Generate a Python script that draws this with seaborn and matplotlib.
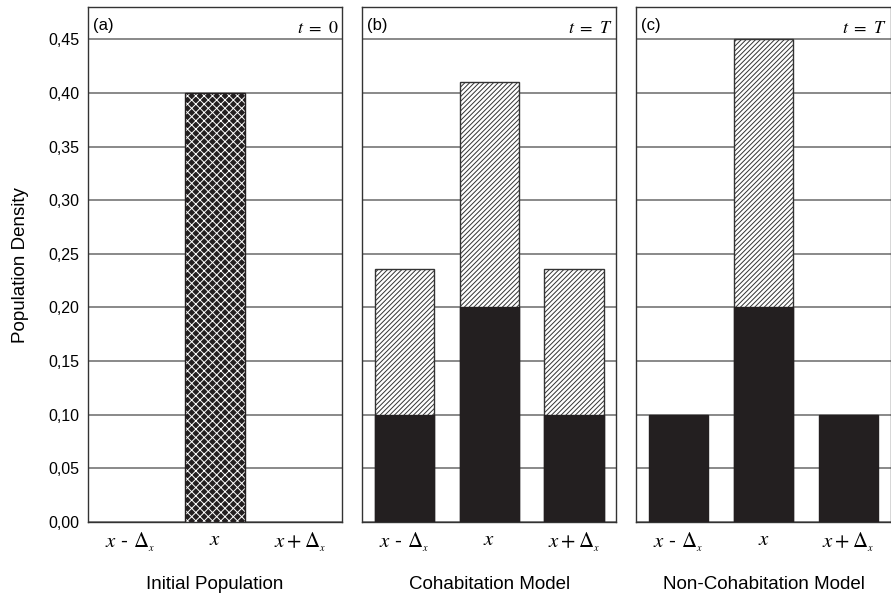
import numpy as np
import pandas as pd
import matplotlib
matplotlib.use("Agg")
import matplotlib.pyplot as plt
from matplotlib.ticker import FuncFormatter
import seaborn as sns

# ── Data ─────────────────────────────────────────────────────────────────────
categories = ["x-d", "x", "x+d"]
tick_labels = [r"$x$ - $\Delta_{_x}$", r"$x$", r"$x + \Delta_{_x}$"]

initial_total = [0.0, 0.40, 0.0]              # crosshatched, t = 0
cohab_solid = [0.10, 0.20, 0.10]              # black part
cohab_total = [0.236, 0.41, 0.236]            # top of hatched part
noncohab_solid = [0.10, 0.20, 0.10]
noncohab_total = [0.10, 0.45, 0.10]

panel_tags = ["(a)", "(b)", "(c)"]
panel_times = [r"$t\ =\ 0$", r"$t\ =\ T$", r"$t\ =\ T$"]
panel_titles = ["Initial Population", "Cohabitation Model", "Non-Cohabitation Model"]
yticks = [0.00, 0.05, 0.10, 0.15, 0.20, 0.25, 0.30, 0.35, 0.40, 0.45]

# ── Style ────────────────────────────────────────────────────────────────────
sns.set_style("white")
plt.rcParams.update({
    "font.family": ["Liberation Sans", "DejaVu Sans"],
    "mathtext.fontset": "stix",
    "hatch.linewidth": 0.7,
    "text.color": "black",
    "axes.labelcolor": "black",
    "xtick.color": "black",
    "ytick.color": "black",
})

fig, axes = plt.subplots(1, 3, figsize=(8.91, 5.95), dpi=100, sharey=True)
fig.subplots_adjust(left=0.0988, right=0.9995, bottom=0.1227, top=0.988, wspace=0.0786)

def frame(vals):
    return pd.DataFrame({"pos": categories, "val": vals})

# (a) initial population
ax = axes[0]
d = frame(initial_total)
d = d[d["val"] > 0]
sns.barplot(data=d, x="pos", y="val", order=categories, ax=ax, width=0.7,
            color="#231f20", saturation=1, edgecolor="white", linewidth=0,
            hatch="xxxx", zorder=3)
sns.barplot(data=d, x="pos", y="val", order=categories, ax=ax, width=0.7,
            fill=False, color="#231f20", linewidth=1.0, zorder=4)

# (b) cohabitation, (c) non-cohabitation
for ax, solid, total in [(axes[1], cohab_solid, cohab_total),
                         (axes[2], noncohab_solid, noncohab_total)]:
    dt = frame(total)
    dt = dt[dt["val"] > np.array(solid)[dt.index]]
    sns.barplot(data=dt, x="pos", y="val", order=categories, ax=ax, width=0.7,
                color="white", saturation=1, edgecolor="#333333", linewidth=1.0,
                hatch="///////", zorder=3)
    sns.barplot(data=frame(solid), x="pos", y="val", order=categories, ax=ax,
                width=0.7, color="#231f20", saturation=1, edgecolor="#231f20",
                linewidth=1.0, zorder=4)

for i, ax in enumerate(axes):
    ax.set_xlim(-0.5, 2.5)
    ax.set_ylim(0, 0.48)
    ax.set_yticks(yticks)
    ax.yaxis.grid(True, color="#808080", lw=1.3)
    ax.xaxis.grid(False)
    ax.set_axisbelow(True)
    ax.set_xticks(range(3))
    ax.set_xticklabels(tick_labels, fontsize=15)
    ax.tick_params(axis="both", length=0, pad=6)
    ax.tick_params(axis="y", labelsize=11.5, pad=6)
    for s in ax.spines.values():
        s.set_color("#333333")
        s.set_linewidth(1.0)
        s.set_visible(True)
    ax.set_xlabel(panel_titles[i], fontsize=13.5, labelpad=16)
    ax.set_ylabel("")
    ax.text(0.02, 0.978, panel_tags[i], transform=ax.transAxes,
            ha="left", va="top", fontsize=12)
    ax.text(0.985, 0.975, panel_times[i], transform=ax.transAxes,
            ha="right", va="top", fontsize=13)

axes[0].yaxis.set_major_formatter(FuncFormatter(lambda v, p: f"{v:.2f}".replace(".", ",")))
axes[0].set_ylabel("Population Density", fontsize=13.5, labelpad=14)

fig.savefig("out.png", dpi=100)
